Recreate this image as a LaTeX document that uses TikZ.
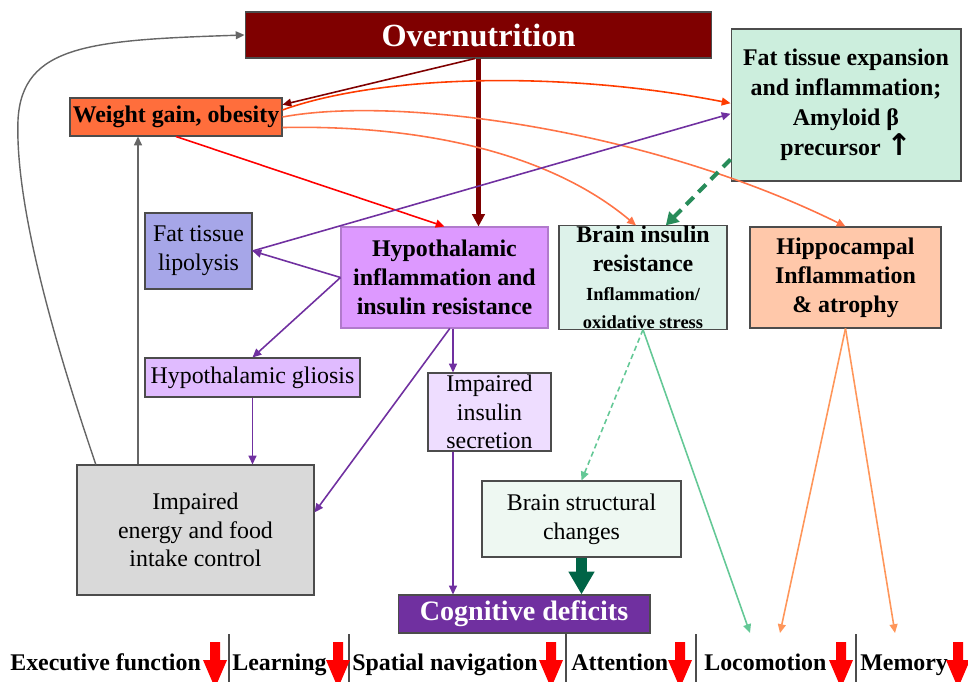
\documentclass[tikz,border=0pt]{standalone}
\usepackage{fontspec}
\setmainfont{Liberation Serif}
\newfontfamily\arrowfont{DejaVu Sans}
\usetikzlibrary{arrows.meta}
\definecolor{overred}{RGB}{127,0,0}
\definecolor{weightfill}{RGB}{255,110,60}
\definecolor{fatexpfill}{RGB}{204,238,221}
\definecolor{lipofill}{RGB}{166,166,232}
\definecolor{hypofill}{RGB}{221,153,255}
\definecolor{brainfill}{RGB}{221,242,234}
\definecolor{hippofill}{RGB}{255,200,170}
\definecolor{gliofill}{RGB}{224,187,255}
\definecolor{secrfill}{RGB}{238,221,255}
\definecolor{energyfill}{RGB}{217,217,217}
\definecolor{structfill}{RGB}{238,248,242}
\definecolor{cogfill}{RGB}{112,48,160}
\definecolor{redorange}{RGB}{255,60,0}
\definecolor{orangeline}{RGB}{255,115,70}
\definecolor{hippoline}{RGB}{255,150,90}
\definecolor{lightgreen}{RGB}{100,200,150}
\definecolor{dashgreen}{RGB}{40,140,90}
\definecolor{blockgreen}{RGB}{0,100,70}
\begin{document}
\begin{tikzpicture}[x={(0.02cm,0)}, y={(0,-0.02cm)},
  >={Triangle[length=5pt,width=4.5pt]},
  box/.style={draw=black!70, line width=0.6pt, align=center, inner sep=0pt},
  boldtxt/.style={font=\fontsize{13.6}{16.4}\selectfont\bfseries},
  plaintxt/.style={font=\fontsize{13.6}{16.4}\selectfont},
  arr/.style={->, line width=0.9pt},
  grayarr/.style={->, line width=0.8pt, black!60}]
\useasboundingbox (0,0) rectangle (968,682);
\clip (0,0) rectangle (968,682);
\node[box, fill=overred, text=white, minimum width=9.34cm, minimum height=0.92cm,
  font=\fontsize{18.4}{22}\selectfont\bfseries] (over) at (478.5,35) {Overnutrition};
\node[box, boldtxt, fill=weightfill, minimum width=4.24cm, minimum height=0.76cm] (weight) at (176,117) {Weight gain, obesity};
\node[box, boldtxt, fill=fatexpfill, minimum width=4.6cm, minimum height=3.04cm,
  font=\fontsize{13.6}{17}\selectfont\bfseries] (fatexp) at (846,105)
  {Fat tissue expansion\\and inflammation;\\Amyloid β\\precursor {\arrowfont\bfseries\fontsize{17}{17}\selectfont ↑}};
\node[box, plaintxt, fill=lipofill, minimum width=2.14cm, minimum height=1.52cm] (lipo) at (198.5,251) {Fat tissue\\lipolysis};
\node[box, boldtxt, fill=hypofill, draw=hypofill!80!black, minimum width=4.14cm, minimum height=2.02cm] (hypo) at (444.5,277.5)
  {Hypothalamic\\inflammation and\\insulin resistance};
\node[box, boldtxt, fill=brainfill, minimum width=3.36cm, minimum height=2.02cm] (brainins) at (643,277.5)
  {Brain insulin\\resistance\\\fontsize{10.5}{12.5}\selectfont Inflammation/\\\fontsize{10.5}{12.5}\selectfont oxidative stress};
\node[box, boldtxt, fill=hippofill, minimum width=3.82cm, minimum height=2.02cm] (hippo) at (845.5,277.5)
  {Hippocampal\\Inflammation\\\& atrophy};
\node[box, plaintxt, fill=gliofill, minimum width=4.3cm, minimum height=0.78cm] (gliosis) at (252.5,377.5) {Hypothalamic gliosis};
\node[box, plaintxt, fill=secrfill, minimum width=2.46cm, minimum height=1.56cm] (secr) at (489.5,412) {Impaired\\insulin\\secretion};
\node[box, plaintxt, fill=energyfill, minimum width=4.74cm, minimum height=2.6cm] (energy) at (195.5,530)
  {Impaired\\energy and food\\intake control};
\node[box, plaintxt, fill=structfill, minimum width=3.98cm, minimum height=1.52cm] (struct) at (581.5,519) {Brain structural\\changes};
\node[box, fill=cogfill, text=white, minimum width=5.04cm, minimum height=0.76cm,
  font=\fontsize{16}{19}\selectfont\bfseries] (cog) at (524,614) {Cognitive deficits};
\node[boldtxt, anchor=base west, inner sep=0pt] (exec) at (10,670) {Executive function};
\node[boldtxt, anchor=base west, inner sep=0pt] (learn) at (232,670) {Learning};
\node[boldtxt, anchor=base west, inner sep=0pt] (spatial) at (352,670) {Spatial navigation};
\node[boldtxt, anchor=base west, inner sep=0pt] (attn) at (571,670) {Attention};
\node[boldtxt, anchor=base west, inner sep=0pt] (loco) at (704,670) {Locomotion};
\node[boldtxt, anchor=base west, inner sep=0pt] (mem) at (860,670) {Memory};
\coordinate (hx) at (453,0);
\coordinate (gx) at (138,0);
\coordinate (locA) at (750,633);
\coordinate (locB) at (780,633);
\coordinate (memA) at (895,633);
\draw[arr, overred] ([xshift=-2pt]over.south) -- ([yshift=7pt]weight.east);
\draw[->, overred, line width=2.8pt, >={Triangle[length=7pt,width=7pt]}] (over.south) -- (hypo.north -| over.south);
\draw[arr, redorange] ([yshift=4pt]weight.east) .. controls (380,75) and (560,70) .. ([yshift=1pt]fatexp.west);
\draw[arr, orangeline] (weight.east) .. controls (400,95) and (650,130) .. (hippo.north);
\draw[arr, orangeline] ([yshift=-6pt]weight.east) .. controls (400,125) and (540,145) .. ([xshift=-4pt]brainins.north);
\draw[arr, red] (weight.south) -- (hypo.north);
\draw[arr, cogfill] (lipo.east) -- ([yshift=-5pt]fatexp.west);
\draw[arr, cogfill] (hypo.west) -- (lipo.east);
\draw[arr, cogfill] (hypo.west) -- (gliosis.north);
\draw[arr, cogfill] (gliosis.south) -- (gliosis.south |- energy.north);
\draw[arr, cogfill] (hypo.south -| hx) -- (secr.north -| hx);
\draw[arr, cogfill] ([xshift=3pt]hypo.south) -- ([yshift=10pt]energy.east);
\draw[arr, cogfill] (secr.south -| hx) -- (cog.north -| hx);
\draw[->, dashgreen, line width=2.3pt, dash pattern=on 6pt off 4pt, >={Triangle[length=7pt,width=8pt]}]
  ([yshift=-31pt]fatexp.west) -- ([xshift=13pt]brainins.north);
\draw[arr, lightgreen, dash pattern=on 3pt off 2pt] (brainins.south) -- (struct.north);
\draw[arr, lightgreen] (brainins.south) -- (locA);
\draw[arr, hippoline] (hippo.south) -- (locB);
\draw[arr, hippoline] (hippo.south) -- (memA);
\draw[->, blockgreen, line width=5.7pt, >={Triangle[length=13pt,width=14pt]}] (struct.south) -- (cog.north -| struct.south);
\draw[grayarr] (energy.north -| gx) -- (weight.south -| gx);
\draw[grayarr] ([xshift=11pt]energy.north west) .. controls (50,330) and (15,200) .. (18,120)
  .. controls (22,45) and (90,40) .. (over.west);
\foreach \x in {229,349,566,696,856}
  \draw[black!70, line width=0.8pt] (\x,634) -- (\x,682);
\foreach \x in {215,338,551,680,841,958}
  \fill[red] (\x-5,642) -- (\x+5,642) -- (\x+5,660) -- (\x+12,660) -- (\x,688) -- (\x-12,660) -- (\x-5,660) -- cycle;
\end{tikzpicture}
\end{document}
